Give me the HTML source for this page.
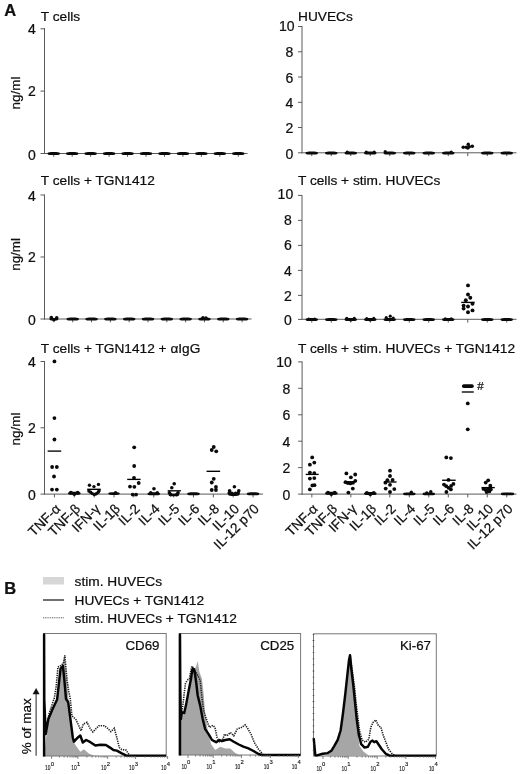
<!DOCTYPE html>
<html><head><meta charset="utf-8"><title>Figure</title>
<style>html,body{margin:0;padding:0;background:#fff}svg{display:block}text{stroke:#000;stroke-width:.22px}</style>
</head><body>
<svg width="520" height="774" viewBox="0 0 520 774">
<g font-family="Liberation Sans, Arial, sans-serif" font-size="13.7" fill="#111">
<text x="4.2" y="15.8" font-weight="bold" font-size="16.5">A</text>
<text x="4.2" y="594" font-weight="bold" font-size="16.5">B</text>
<g stroke="#5a5a5a" stroke-width="1" fill="none">
<line x1="44.5" y1="28.0" x2="44.5" y2="154.0"/>
<line x1="44.0" y1="153.5" x2="247.5" y2="153.5"/>
<line x1="40.5" y1="28.8" x2="44.5" y2="28.8"/>
<line x1="40.5" y1="91.1" x2="44.5" y2="91.1"/>
<line x1="40.5" y1="153.5" x2="44.5" y2="153.5"/>
<line x1="53.73" y1="153.5" x2="53.73" y2="156.8"/>
<line x1="72.18" y1="153.5" x2="72.18" y2="156.8"/>
<line x1="90.64" y1="153.5" x2="90.64" y2="156.8"/>
<line x1="109.09" y1="153.5" x2="109.09" y2="156.8"/>
<line x1="127.55" y1="153.5" x2="127.55" y2="156.8"/>
<line x1="146.00" y1="153.5" x2="146.00" y2="156.8"/>
<line x1="164.45" y1="153.5" x2="164.45" y2="156.8"/>
<line x1="182.91" y1="153.5" x2="182.91" y2="156.8"/>
<line x1="201.36" y1="153.5" x2="201.36" y2="156.8"/>
<line x1="219.82" y1="153.5" x2="219.82" y2="156.8"/>
<line x1="238.27" y1="153.5" x2="238.27" y2="156.8"/>
</g>
<text x="35.8" y="34.4" text-anchor="end" font-size="14">4</text>
<text x="35.8" y="95.89999999999999" text-anchor="end" font-size="14">2</text>
<text x="35.8" y="159.9" text-anchor="end" font-size="14">0</text>
<text x="40.8" y="20.6">T cells</text>
<text transform="translate(20.2,93) rotate(-90)" text-anchor="middle" font-size="13.4">ng/ml</text>
<g stroke="#5a5a5a" stroke-width="1" fill="none">
<line x1="44.5" y1="194.5" x2="44.5" y2="319.5"/>
<line x1="44.0" y1="319" x2="251.5" y2="319"/>
<line x1="40.5" y1="195" x2="44.5" y2="195"/>
<line x1="40.5" y1="257" x2="44.5" y2="257"/>
<line x1="40.5" y1="319" x2="44.5" y2="319"/>
<line x1="53.91" y1="319" x2="53.91" y2="322.3"/>
<line x1="72.73" y1="319" x2="72.73" y2="322.3"/>
<line x1="91.55" y1="319" x2="91.55" y2="322.3"/>
<line x1="110.36" y1="319" x2="110.36" y2="322.3"/>
<line x1="129.18" y1="319" x2="129.18" y2="322.3"/>
<line x1="148.00" y1="319" x2="148.00" y2="322.3"/>
<line x1="166.82" y1="319" x2="166.82" y2="322.3"/>
<line x1="185.64" y1="319" x2="185.64" y2="322.3"/>
<line x1="204.45" y1="319" x2="204.45" y2="322.3"/>
<line x1="223.27" y1="319" x2="223.27" y2="322.3"/>
<line x1="242.09" y1="319" x2="242.09" y2="322.3"/>
</g>
<text x="35.8" y="200.6" text-anchor="end" font-size="14">4</text>
<text x="35.8" y="261.8" text-anchor="end" font-size="14">2</text>
<text x="35.8" y="325.40000000000003" text-anchor="end" font-size="14">0</text>
<text x="40.8" y="185">T cells + TGN1412</text>
<text transform="translate(20.2,254.4) rotate(-90)" text-anchor="middle" font-size="13.4">ng/ml</text>
<g stroke="#5a5a5a" stroke-width="1" fill="none">
<line x1="44.5" y1="361.0" x2="44.5" y2="494.6"/>
<line x1="44.0" y1="494.1" x2="263" y2="494.1"/>
<line x1="40.5" y1="361.5" x2="44.5" y2="361.5"/>
<line x1="40.5" y1="427.8" x2="44.5" y2="427.8"/>
<line x1="40.5" y1="494.1" x2="44.5" y2="494.1"/>
<line x1="54.43" y1="494.1" x2="54.43" y2="497.40000000000003"/>
<line x1="74.30" y1="494.1" x2="74.30" y2="497.40000000000003"/>
<line x1="94.16" y1="494.1" x2="94.16" y2="497.40000000000003"/>
<line x1="114.02" y1="494.1" x2="114.02" y2="497.40000000000003"/>
<line x1="133.89" y1="494.1" x2="133.89" y2="497.40000000000003"/>
<line x1="153.75" y1="494.1" x2="153.75" y2="497.40000000000003"/>
<line x1="173.61" y1="494.1" x2="173.61" y2="497.40000000000003"/>
<line x1="193.48" y1="494.1" x2="193.48" y2="497.40000000000003"/>
<line x1="213.34" y1="494.1" x2="213.34" y2="497.40000000000003"/>
<line x1="233.20" y1="494.1" x2="233.20" y2="497.40000000000003"/>
<line x1="253.07" y1="494.1" x2="253.07" y2="497.40000000000003"/>
</g>
<text x="35.8" y="367.1" text-anchor="end" font-size="14">4</text>
<text x="35.8" y="432.6" text-anchor="end" font-size="14">2</text>
<text x="35.8" y="499.70000000000005" text-anchor="end" font-size="14">0</text>
<text x="40.8" y="353">T cells + TGN1412 + αIgG</text>
<text transform="translate(20.2,429) rotate(-90)" text-anchor="middle" font-size="13.4">ng/ml</text>
<text transform="translate(61.23,509.60) rotate(-45)" text-anchor="end" font-size="13.6">TNF-α</text>
<text transform="translate(81.10,509.60) rotate(-45)" text-anchor="end" font-size="13.6">TNF-β</text>
<text transform="translate(100.96,509.60) rotate(-45)" text-anchor="end" font-size="13.6">IFN-γ</text>
<text transform="translate(120.82,509.60) rotate(-45)" text-anchor="end" font-size="13.6">IL-1β</text>
<text transform="translate(140.69,509.60) rotate(-45)" text-anchor="end" font-size="13.6">IL-2</text>
<text transform="translate(160.55,509.60) rotate(-45)" text-anchor="end" font-size="13.6">IL-4</text>
<text transform="translate(180.41,509.60) rotate(-45)" text-anchor="end" font-size="13.6">IL-5</text>
<text transform="translate(200.28,509.60) rotate(-45)" text-anchor="end" font-size="13.6">IL-6</text>
<text transform="translate(220.14,509.60) rotate(-45)" text-anchor="end" font-size="13.6">IL-8</text>
<text transform="translate(240.00,509.60) rotate(-45)" text-anchor="end" font-size="13.6">IL-10</text>
<text transform="translate(259.87,509.60) rotate(-45)" text-anchor="end" font-size="13.6">IL-12 p70</text>
<g stroke="#5a5a5a" stroke-width="1" fill="none">
<line x1="302" y1="26.0" x2="302" y2="153.3"/>
<line x1="301.5" y1="152.8" x2="516.5" y2="152.8"/>
<line x1="298" y1="26.5" x2="302" y2="26.5"/>
<line x1="298" y1="51.8" x2="302" y2="51.8"/>
<line x1="298" y1="77" x2="302" y2="77"/>
<line x1="298" y1="102.3" x2="302" y2="102.3"/>
<line x1="298" y1="127.5" x2="302" y2="127.5"/>
<line x1="298" y1="152.8" x2="302" y2="152.8"/>
<line x1="311.75" y1="152.8" x2="311.75" y2="156.10000000000002"/>
<line x1="331.25" y1="152.8" x2="331.25" y2="156.10000000000002"/>
<line x1="350.75" y1="152.8" x2="350.75" y2="156.10000000000002"/>
<line x1="370.25" y1="152.8" x2="370.25" y2="156.10000000000002"/>
<line x1="389.75" y1="152.8" x2="389.75" y2="156.10000000000002"/>
<line x1="409.25" y1="152.8" x2="409.25" y2="156.10000000000002"/>
<line x1="428.75" y1="152.8" x2="428.75" y2="156.10000000000002"/>
<line x1="448.25" y1="152.8" x2="448.25" y2="156.10000000000002"/>
<line x1="467.75" y1="152.8" x2="467.75" y2="156.10000000000002"/>
<line x1="487.25" y1="152.8" x2="487.25" y2="156.10000000000002"/>
<line x1="506.75" y1="152.8" x2="506.75" y2="156.10000000000002"/>
</g>
<text x="294.6" y="31.1" text-anchor="end" font-size="14">10</text>
<text x="293.2" y="57.4" text-anchor="end" font-size="14">8</text>
<text x="293.2" y="82.6" text-anchor="end" font-size="14">6</text>
<text x="293.2" y="107.89999999999999" text-anchor="end" font-size="14">4</text>
<text x="293.2" y="133.1" text-anchor="end" font-size="14">2</text>
<text x="293.2" y="158.70000000000002" text-anchor="end" font-size="14">0</text>
<text x="298" y="20.6">HUVECs</text>
<g stroke="#5a5a5a" stroke-width="1" fill="none">
<line x1="302" y1="195.0" x2="302" y2="319.8"/>
<line x1="301.5" y1="319.3" x2="516.5" y2="319.3"/>
<line x1="298" y1="195.4" x2="302" y2="195.4"/>
<line x1="298" y1="220.4" x2="302" y2="220.4"/>
<line x1="298" y1="245.4" x2="302" y2="245.4"/>
<line x1="298" y1="270.4" x2="302" y2="270.4"/>
<line x1="298" y1="295.4" x2="302" y2="295.4"/>
<line x1="298" y1="319.4" x2="302" y2="319.4"/>
<line x1="311.75" y1="319.3" x2="311.75" y2="322.6"/>
<line x1="331.25" y1="319.3" x2="331.25" y2="322.6"/>
<line x1="350.75" y1="319.3" x2="350.75" y2="322.6"/>
<line x1="370.25" y1="319.3" x2="370.25" y2="322.6"/>
<line x1="389.75" y1="319.3" x2="389.75" y2="322.6"/>
<line x1="409.25" y1="319.3" x2="409.25" y2="322.6"/>
<line x1="428.75" y1="319.3" x2="428.75" y2="322.6"/>
<line x1="448.25" y1="319.3" x2="448.25" y2="322.6"/>
<line x1="467.75" y1="319.3" x2="467.75" y2="322.6"/>
<line x1="487.25" y1="319.3" x2="487.25" y2="322.6"/>
<line x1="506.75" y1="319.3" x2="506.75" y2="322.6"/>
</g>
<text x="293.2" y="199.0" text-anchor="end" font-size="14">10</text>
<text x="291.8" y="224.5" text-anchor="end" font-size="14">8</text>
<text x="291.8" y="250.0" text-anchor="end" font-size="14">6</text>
<text x="291.8" y="275.5" text-anchor="end" font-size="14">4</text>
<text x="291.8" y="301.0" text-anchor="end" font-size="14">2</text>
<text x="291.8" y="325.0" text-anchor="end" font-size="14">0</text>
<text x="298" y="185">T cells + stim. HUVECs</text>
<g stroke="#5a5a5a" stroke-width="1" fill="none">
<line x1="302.1" y1="361.4" x2="302.1" y2="494.6"/>
<line x1="301.6" y1="494.1" x2="516.5" y2="494.1"/>
<line x1="298.1" y1="361.9" x2="302.1" y2="361.9"/>
<line x1="298.1" y1="388.3" x2="302.1" y2="388.3"/>
<line x1="298.1" y1="414.8" x2="302.1" y2="414.8"/>
<line x1="298.1" y1="441.2" x2="302.1" y2="441.2"/>
<line x1="298.1" y1="467.6" x2="302.1" y2="467.6"/>
<line x1="298.1" y1="494.1" x2="302.1" y2="494.1"/>
<line x1="311.85" y1="494.1" x2="311.85" y2="497.40000000000003"/>
<line x1="331.34" y1="494.1" x2="331.34" y2="497.40000000000003"/>
<line x1="350.83" y1="494.1" x2="350.83" y2="497.40000000000003"/>
<line x1="370.32" y1="494.1" x2="370.32" y2="497.40000000000003"/>
<line x1="389.81" y1="494.1" x2="389.81" y2="497.40000000000003"/>
<line x1="409.30" y1="494.1" x2="409.30" y2="497.40000000000003"/>
<line x1="428.79" y1="494.1" x2="428.79" y2="497.40000000000003"/>
<line x1="448.28" y1="494.1" x2="448.28" y2="497.40000000000003"/>
<line x1="467.77" y1="494.1" x2="467.77" y2="497.40000000000003"/>
<line x1="487.26" y1="494.1" x2="487.26" y2="497.40000000000003"/>
<line x1="506.75" y1="494.1" x2="506.75" y2="497.40000000000003"/>
</g>
<text x="291.8" y="366.5" text-anchor="end" font-size="14">10</text>
<text x="290.40000000000003" y="393.90000000000003" text-anchor="end" font-size="14">8</text>
<text x="290.40000000000003" y="420.40000000000003" text-anchor="end" font-size="14">6</text>
<text x="290.40000000000003" y="446.8" text-anchor="end" font-size="14">4</text>
<text x="290.40000000000003" y="473.20000000000005" text-anchor="end" font-size="14">2</text>
<text x="290.40000000000003" y="499.70000000000005" text-anchor="end" font-size="14">0</text>
<text x="298" y="353.3">T cells + stim. HUVECs + TGN1412</text>
<text transform="translate(318.65,509.60) rotate(-45)" text-anchor="end" font-size="13.6">TNF-α</text>
<text transform="translate(338.14,509.60) rotate(-45)" text-anchor="end" font-size="13.6">TNF-β</text>
<text transform="translate(357.63,509.60) rotate(-45)" text-anchor="end" font-size="13.6">IFN-γ</text>
<text transform="translate(377.12,509.60) rotate(-45)" text-anchor="end" font-size="13.6">IL-1β</text>
<text transform="translate(396.61,509.60) rotate(-45)" text-anchor="end" font-size="13.6">IL-2</text>
<text transform="translate(416.10,509.60) rotate(-45)" text-anchor="end" font-size="13.6">IL-4</text>
<text transform="translate(435.59,509.60) rotate(-45)" text-anchor="end" font-size="13.6">IL-5</text>
<text transform="translate(455.08,509.60) rotate(-45)" text-anchor="end" font-size="13.6">IL-6</text>
<text transform="translate(474.57,509.60) rotate(-45)" text-anchor="end" font-size="13.6">IL-8</text>
<text transform="translate(494.06,509.60) rotate(-45)" text-anchor="end" font-size="13.6">IL-10</text>
<text transform="translate(513.55,509.60) rotate(-45)" text-anchor="end" font-size="13.6">IL-12 p70</text>
<g fill="#0a0a0a">
<rect x="47.53" y="152.10" width="12.4" height="3.0" rx="3.5" ry="1.5"/>
<rect x="65.98" y="152.10" width="12.4" height="3.0" rx="3.5" ry="1.5"/>
<rect x="84.44" y="152.10" width="12.4" height="3.0" rx="3.5" ry="1.5"/>
<rect x="102.89" y="152.10" width="12.4" height="3.0" rx="3.5" ry="1.5"/>
<rect x="121.35" y="152.10" width="12.4" height="3.0" rx="3.5" ry="1.5"/>
<rect x="139.80" y="152.10" width="12.4" height="3.0" rx="3.5" ry="1.5"/>
<rect x="158.25" y="152.10" width="12.4" height="3.0" rx="3.5" ry="1.5"/>
<rect x="176.71" y="152.10" width="12.4" height="3.0" rx="3.5" ry="1.5"/>
<rect x="195.16" y="152.10" width="12.4" height="3.0" rx="3.5" ry="1.5"/>
<rect x="213.62" y="152.10" width="12.4" height="3.0" rx="3.5" ry="1.5"/>
<rect x="232.07" y="152.10" width="12.4" height="3.0" rx="3.5" ry="1.5"/>
<circle cx="51.31" cy="317.60" r="1.8"/>
<circle cx="56.71" cy="317.80" r="1.8"/>
<circle cx="53.91" cy="319.80" r="1.8"/>
<rect x="49.41" y="318.10" width="9" height="2.4" rx="3.5" ry="1.2"/>
<rect x="66.53" y="317.60" width="12.4" height="3.0" rx="3.5" ry="1.5"/>
<rect x="85.35" y="317.60" width="12.4" height="3.0" rx="3.5" ry="1.5"/>
<rect x="104.16" y="317.60" width="12.4" height="3.0" rx="3.5" ry="1.5"/>
<rect x="122.98" y="317.60" width="12.4" height="3.0" rx="3.5" ry="1.5"/>
<rect x="141.80" y="317.60" width="12.4" height="3.0" rx="3.5" ry="1.5"/>
<rect x="160.62" y="317.60" width="12.4" height="3.0" rx="3.5" ry="1.5"/>
<rect x="179.44" y="317.60" width="12.4" height="3.0" rx="3.5" ry="1.5"/>
<rect x="198.25" y="317.60" width="12.4" height="3.0" rx="3.5" ry="1.5"/>
<circle cx="202.95" cy="317.80" r="1.7"/>
<circle cx="205.95" cy="318.00" r="1.7"/>
<rect x="217.07" y="317.60" width="12.4" height="3.0" rx="3.5" ry="1.5"/>
<rect x="235.89" y="317.60" width="12.4" height="3.0" rx="3.5" ry="1.5"/>
<rect x="305.55" y="151.50" width="12.4" height="3.0" rx="3.5" ry="1.5"/>
<rect x="325.05" y="151.50" width="12.4" height="3.0" rx="3.5" ry="1.5"/>
<rect x="344.55" y="151.50" width="12.4" height="3.0" rx="3.5" ry="1.5"/>
<circle cx="347.25" cy="152.00" r="1.5999999999999999"/>
<rect x="364.05" y="151.50" width="12.4" height="3.0" rx="3.5" ry="1.5"/>
<circle cx="366.25" cy="152.00" r="1.5999999999999999"/>
<circle cx="374.25" cy="152.20" r="1.5999999999999999"/>
<rect x="383.55" y="151.50" width="12.4" height="3.0" rx="3.5" ry="1.5"/>
<circle cx="385.25" cy="151.60" r="1.5999999999999999"/>
<rect x="403.05" y="151.50" width="12.4" height="3.0" rx="3.5" ry="1.5"/>
<rect x="422.55" y="151.50" width="12.4" height="3.0" rx="3.5" ry="1.5"/>
<rect x="442.05" y="151.50" width="12.4" height="3.0" rx="3.5" ry="1.5"/>
<circle cx="451.25" cy="152.20" r="1.5999999999999999"/>
<circle cx="468.25" cy="144.20" r="1.7"/>
<circle cx="463.25" cy="147.20" r="1.8"/>
<circle cx="466.25" cy="147.30" r="1.8"/>
<circle cx="469.25" cy="146.80" r="1.8"/>
<circle cx="472.25" cy="146.20" r="1.8"/>
<circle cx="467.75" cy="148.00" r="1.8"/>
<rect x="481.05" y="151.50" width="12.4" height="3.0" rx="3.5" ry="1.5"/>
<rect x="500.55" y="151.50" width="12.4" height="3.0" rx="3.5" ry="1.5"/>
<rect x="305.55" y="317.90" width="12.4" height="3.0" rx="3.5" ry="1.5"/>
<circle cx="308.75" cy="318.90" r="1.5"/>
<circle cx="314.75" cy="318.90" r="1.5"/>
<rect x="325.05" y="317.90" width="12.4" height="3.0" rx="3.5" ry="1.5"/>
<rect x="344.55" y="317.90" width="12.4" height="3.0" rx="3.5" ry="1.5"/>
<circle cx="346.75" cy="318.20" r="1.55"/>
<circle cx="354.25" cy="318.20" r="1.55"/>
<circle cx="350.75" cy="320.00" r="1.5999999999999999"/>
<rect x="364.05" y="317.90" width="12.4" height="3.0" rx="3.5" ry="1.5"/>
<circle cx="366.75" cy="318.50" r="1.5"/>
<circle cx="373.75" cy="318.20" r="1.5"/>
<circle cx="370.25" cy="320.00" r="1.5"/>
<rect x="383.55" y="317.90" width="12.4" height="3.0" rx="3.5" ry="1.5"/>
<circle cx="386.25" cy="317.60" r="1.55"/>
<circle cx="390.25" cy="316.20" r="1.5999999999999999"/>
<circle cx="393.25" cy="318.00" r="1.5"/>
<rect x="403.05" y="317.90" width="12.4" height="3.0" rx="3.5" ry="1.5"/>
<rect x="422.55" y="317.90" width="12.4" height="3.0" rx="3.5" ry="1.5"/>
<rect x="442.05" y="317.90" width="12.4" height="3.0" rx="3.5" ry="1.5"/>
<circle cx="445.25" cy="318.80" r="1.5"/>
<circle cx="451.25" cy="318.80" r="1.5"/>
<circle cx="468.00" cy="285.40" r="1.95"/>
<circle cx="468.00" cy="294.50" r="1.95"/>
<circle cx="470.30" cy="297.70" r="1.95"/>
<circle cx="465.80" cy="300.30" r="1.95"/>
<circle cx="472.50" cy="303.80" r="1.95"/>
<circle cx="463.60" cy="305.60" r="1.95"/>
<circle cx="468.00" cy="306.50" r="1.95"/>
<circle cx="463.60" cy="308.60" r="1.95"/>
<circle cx="472.50" cy="310.40" r="1.95"/>
<circle cx="468.00" cy="312.20" r="1.95"/>
<line x1="461.20" y1="302.40" x2="474.70" y2="302.40" stroke="#000" stroke-width="1.35"/>
<rect x="481.05" y="317.90" width="12.4" height="3.0" rx="3.5" ry="1.5"/>
<rect x="500.55" y="317.90" width="12.4" height="3.0" rx="3.5" ry="1.5"/>
<circle cx="54.43" cy="361.40" r="1.9000000000000001"/>
<circle cx="54.43" cy="418.10" r="1.9000000000000001"/>
<circle cx="54.43" cy="439.50" r="1.9000000000000001"/>
<circle cx="52.13" cy="467.00" r="1.9000000000000001"/>
<circle cx="56.83" cy="467.00" r="1.9000000000000001"/>
<circle cx="54.03" cy="476.50" r="1.9000000000000001"/>
<circle cx="52.03" cy="489.60" r="1.9000000000000001"/>
<circle cx="56.83" cy="489.60" r="1.9000000000000001"/>
<line x1="47.63" y1="451.10" x2="61.23" y2="451.10" stroke="#000" stroke-width="1.35"/>
<rect x="68.00" y="491.70" width="12.6" height="3.0" rx="3.5" ry="1.5"/>
<circle cx="70.90" cy="492.60" r="1.9000000000000001"/>
<circle cx="74.30" cy="494.00" r="1.9000000000000001"/>
<circle cx="77.70" cy="492.60" r="1.9000000000000001"/>
<circle cx="89.46" cy="485.30" r="1.7"/>
<circle cx="98.46" cy="484.40" r="1.7"/>
<circle cx="93.96" cy="486.60" r="1.7"/>
<circle cx="88.86" cy="491.00" r="1.7"/>
<circle cx="90.66" cy="492.20" r="1.7"/>
<circle cx="92.36" cy="493.60" r="1.7"/>
<circle cx="94.36" cy="494.50" r="1.7"/>
<circle cx="96.36" cy="493.80" r="1.7"/>
<circle cx="98.16" cy="492.20" r="1.7"/>
<circle cx="99.06" cy="490.80" r="1.7"/>
<line x1="87.16" y1="489.30" x2="100.76" y2="489.30" stroke="#000" stroke-width="1.35"/>
<rect x="108.27" y="492.20" width="11.5" height="2.8" rx="3.5" ry="1.4"/>
<circle cx="115.52" cy="492.80" r="1.7"/>
<circle cx="134.19" cy="447.30" r="1.9000000000000001"/>
<circle cx="134.19" cy="466.00" r="1.9000000000000001"/>
<circle cx="133.99" cy="477.80" r="1.9000000000000001"/>
<circle cx="138.69" cy="483.00" r="1.9000000000000001"/>
<circle cx="129.99" cy="486.60" r="1.9000000000000001"/>
<circle cx="134.39" cy="486.80" r="1.9000000000000001"/>
<circle cx="132.69" cy="494.60" r="1.9000000000000001"/>
<circle cx="136.09" cy="494.60" r="1.9000000000000001"/>
<line x1="127.19" y1="479.40" x2="140.59" y2="479.40" stroke="#000" stroke-width="1.35"/>
<rect x="147.50" y="492.30" width="12.5" height="3" rx="3.5" ry="1.5"/>
<circle cx="153.95" cy="488.80" r="1.8"/>
<circle cx="150.75" cy="492.60" r="1.7"/>
<circle cx="157.25" cy="492.60" r="1.7"/>
<circle cx="174.21" cy="483.80" r="1.8"/>
<circle cx="171.81" cy="487.80" r="1.8"/>
<circle cx="169.41" cy="492.80" r="1.8"/>
<circle cx="178.01" cy="492.80" r="1.8"/>
<circle cx="170.61" cy="494.60" r="1.8"/>
<circle cx="176.81" cy="494.60" r="1.8"/>
<rect x="168.56" y="493.70" width="10.5" height="2.6" rx="3.5" ry="1.3"/>
<line x1="167.66" y1="490.80" x2="180.96" y2="490.80" stroke="#000" stroke-width="1.35"/>
<rect x="187.23" y="492.30" width="12.5" height="3" rx="3.5" ry="1.5"/>
<circle cx="213.74" cy="447.00" r="1.9000000000000001"/>
<circle cx="211.74" cy="450.00" r="1.9000000000000001"/>
<circle cx="216.24" cy="451.30" r="1.9000000000000001"/>
<circle cx="213.74" cy="478.80" r="1.9000000000000001"/>
<circle cx="211.74" cy="482.50" r="1.9000000000000001"/>
<circle cx="215.94" cy="487.00" r="1.9000000000000001"/>
<circle cx="211.74" cy="490.00" r="1.9000000000000001"/>
<circle cx="215.94" cy="490.00" r="1.9000000000000001"/>
<line x1="206.54" y1="471.30" x2="220.14" y2="471.30" stroke="#000" stroke-width="1.35"/>
<circle cx="234.40" cy="486.80" r="1.8"/>
<circle cx="229.60" cy="490.80" r="1.8"/>
<circle cx="238.80" cy="490.80" r="1.8"/>
<circle cx="229.20" cy="493.00" r="1.8"/>
<circle cx="238.20" cy="493.00" r="1.8"/>
<circle cx="231.70" cy="493.40" r="1.8"/>
<circle cx="235.70" cy="493.40" r="1.8"/>
<rect x="228.05" y="492.50" width="11.5" height="3.4" rx="3.5" ry="1.7"/>
<rect x="246.82" y="492.30" width="12.5" height="3" rx="3.5" ry="1.5"/>
<circle cx="312.20" cy="457.40" r="1.92"/>
<circle cx="314.30" cy="462.60" r="1.92"/>
<circle cx="309.90" cy="464.70" r="1.92"/>
<circle cx="309.90" cy="472.60" r="1.92"/>
<circle cx="314.30" cy="473.10" r="1.92"/>
<circle cx="309.90" cy="478.60" r="1.92"/>
<circle cx="314.30" cy="478.10" r="1.92"/>
<circle cx="312.40" cy="485.40" r="1.92"/>
<circle cx="314.50" cy="485.20" r="1.92"/>
<circle cx="309.90" cy="489.40" r="1.92"/>
<line x1="305.70" y1="474.40" x2="318.70" y2="474.40" stroke="#000" stroke-width="1.35"/>
<rect x="325.04" y="491.80" width="12.6" height="3.0" rx="3.5" ry="1.5"/>
<circle cx="327.94" cy="492.70" r="1.9000000000000001"/>
<circle cx="331.34" cy="494.10" r="1.9000000000000001"/>
<circle cx="334.74" cy="492.70" r="1.9000000000000001"/>
<circle cx="346.40" cy="473.40" r="1.92"/>
<circle cx="355.20" cy="474.50" r="1.92"/>
<circle cx="350.90" cy="477.30" r="1.92"/>
<circle cx="345.50" cy="482.20" r="1.92"/>
<circle cx="347.80" cy="483.10" r="1.92"/>
<circle cx="350.40" cy="483.40" r="1.92"/>
<circle cx="353.00" cy="482.80" r="1.92"/>
<circle cx="355.30" cy="480.80" r="1.92"/>
<circle cx="352.80" cy="488.60" r="1.92"/>
<circle cx="348.40" cy="492.60" r="1.92"/>
<line x1="344.40" y1="481.80" x2="355.60" y2="481.80" stroke="#000" stroke-width="1.35"/>
<rect x="364.02" y="491.90" width="12.6" height="3.0" rx="3.5" ry="1.5"/>
<circle cx="366.92" cy="492.80" r="1.9000000000000001"/>
<circle cx="370.32" cy="494.20" r="1.9000000000000001"/>
<circle cx="373.72" cy="492.80" r="1.9000000000000001"/>
<circle cx="390.00" cy="470.70" r="1.92"/>
<circle cx="390.00" cy="476.00" r="1.92"/>
<circle cx="387.40" cy="480.20" r="1.92"/>
<circle cx="392.60" cy="479.90" r="1.92"/>
<circle cx="385.40" cy="482.70" r="1.92"/>
<circle cx="390.00" cy="484.80" r="1.92"/>
<circle cx="385.70" cy="488.60" r="1.92"/>
<circle cx="394.30" cy="489.10" r="1.92"/>
<circle cx="390.00" cy="492.00" r="1.92"/>
<line x1="384.00" y1="482.00" x2="396.60" y2="482.00" stroke="#000" stroke-width="1.35"/>
<rect x="403.05" y="492.50" width="12.5" height="2.8" rx="3.5" ry="1.4"/>
<circle cx="411.30" cy="492.20" r="1.7"/>
<rect x="422.54" y="492.50" width="12.5" height="2.8" rx="3.5" ry="1.4"/>
<circle cx="430.79" cy="491.80" r="1.7"/>
<circle cx="426.79" cy="493.00" r="1.7"/>
<circle cx="446.30" cy="457.40" r="1.92"/>
<circle cx="450.90" cy="458.10" r="1.92"/>
<circle cx="448.50" cy="479.90" r="1.92"/>
<circle cx="444.00" cy="484.60" r="1.92"/>
<circle cx="446.30" cy="486.20" r="1.92"/>
<circle cx="448.50" cy="487.80" r="1.92"/>
<circle cx="450.90" cy="489.40" r="1.92"/>
<circle cx="451.10" cy="485.90" r="1.92"/>
<circle cx="453.40" cy="483.90" r="1.92"/>
<circle cx="446.40" cy="492.00" r="1.92"/>
<line x1="442.10" y1="480.25" x2="455.70" y2="480.25" stroke="#000" stroke-width="1.35"/>
<rect x="461.97" y="384.2" width="11.8" height="3.8" rx="1.8"/>
<line x1="461.77" y1="392.00" x2="473.77" y2="392.00" stroke="#000" stroke-width="1.35"/>
<circle cx="467.77" cy="403.40" r="1.92"/>
<circle cx="467.77" cy="429.30" r="1.92"/>
<circle cx="488.20" cy="480.30" r="1.92"/>
<circle cx="485.70" cy="482.60" r="1.92"/>
<circle cx="490.30" cy="485.70" r="1.92"/>
<circle cx="483.50" cy="488.90" r="1.92"/>
<circle cx="485.80" cy="490.00" r="1.92"/>
<circle cx="488.20" cy="489.10" r="1.92"/>
<circle cx="490.80" cy="489.40" r="1.92"/>
<circle cx="486.70" cy="492.00" r="1.92"/>
<circle cx="489.30" cy="491.40" r="1.92"/>
<line x1="481.50" y1="487.60" x2="494.80" y2="487.60" stroke="#000" stroke-width="1.35"/>
<rect x="500.80" y="492.50" width="13.5" height="2.8" rx="3.5" ry="1.4"/>
</g>
<text x="477.3" y="390.3" font-size="11.5">#</text>
<rect x="43" y="577" width="21" height="7.5" fill="#d6d6d6"/>
<line x1="43" y1="600" x2="64" y2="600" stroke="#222" stroke-width="1.3"/>
<line x1="43" y1="617.8" x2="64" y2="617.8" stroke="#555" stroke-width="1" stroke-dasharray="1 0.8"/>
<text x="74.6" y="586.3">stim. HUVECs</text>
<text x="74.6" y="604.5">HUVECs + TGN1412</text>
<text x="74.6" y="622.6">stim. HUVECs + TGN1412</text>
<text transform="translate(30.8,726.3) rotate(-90)" text-anchor="middle" font-size="13.4">% of max</text>
<line x1="36.1" y1="755.8" x2="36.1" y2="693" stroke="#222" stroke-width="1"/>
<path d="M36.1 688 L39.6 694.2 L32.6 694.2 Z" fill="#111"/>
<polygon points="44.2,756.0 45.9,739.0 48.4,722.0 52.6,710.0 56.8,700.0 59.3,682.0 61.0,670.0 63.5,660.0 64.7,656.5 66.3,673.0 68.6,700.5 71.0,724.0 72.8,740.9 76.1,745.9 80.3,751.8 84.0,749.2 88.7,753.4 93.7,755.6 100.0,756.0" fill="#a6a6a6"/>
<rect x="43.5" y="633.5" width="122.69999999999999" height="122.5" fill="none" stroke="#777" stroke-width="1"/>
<polyline points="45.9,730.0 49.0,714.0 52.6,703.0 54.4,697.7 56.2,686.2 57.3,674.6 57.9,667.0 61.6,665.3 63.6,662.5 64.8,655.4 66.0,668.8 67.1,680.4 68.8,691.9 70.2,698.0 71.9,715.7 76.1,719.9 81.1,730.8 83.3,724.0 87.0,722.4 90.4,729.0 92.9,732.0 98.8,725.7 104.2,725.7 107.6,728.3 110.9,731.6 114.3,728.3 116.8,737.5 119.3,747.6 121.8,749.6 126.0,750.1 129.4,755.1" fill="none" stroke="#1e1e1e" stroke-width="1.6" stroke-dasharray="1.3 1.0"/>
<polyline points="44.1,756.5 44.1,634.5 44.3,700.0 45.7,734.0 48.4,719.0 52.6,709.0 57.1,699.5 59.5,678.0 60.6,668.5 61.6,667.5 62.9,666.0 64.4,680.4 66.0,698.9 68.2,702.2 70.2,717.3 72.8,737.5 73.9,741.7 77.0,738.3 80.3,735.5 82.8,742.5 86.2,740.0 90.4,742.2 95.4,745.5 100.5,744.7 105.9,745.0 110.0,747.6 113.4,750.0 116.8,750.6 121.8,753.4 126.0,755.4 166.0,755.6" fill="none" stroke="#050505" stroke-width="2.45" stroke-linejoin="round"/>
<text x="125.5" y="649.8" font-size="13.3">CD69</text>
<g stroke="#666" stroke-width="0.8">
<line x1="51.6" y1="756" x2="51.6" y2="759"/>
<line x1="59.5" y1="756" x2="59.5" y2="757.6"/>
<line x1="64.1" y1="756" x2="64.1" y2="757.6"/>
<line x1="67.4" y1="756" x2="67.4" y2="757.6"/>
<line x1="70.0" y1="756" x2="70.0" y2="757.6"/>
<line x1="72.1" y1="756" x2="72.1" y2="757.6"/>
<line x1="73.8" y1="756" x2="73.8" y2="757.6"/>
<line x1="75.4" y1="756" x2="75.4" y2="757.6"/>
<line x1="76.7" y1="756" x2="76.7" y2="757.6"/>
<line x1="77.9" y1="756" x2="77.9" y2="759"/>
<line x1="86.9" y1="756" x2="86.9" y2="757.6"/>
<line x1="92.1" y1="756" x2="92.1" y2="757.6"/>
<line x1="95.8" y1="756" x2="95.8" y2="757.6"/>
<line x1="98.7" y1="756" x2="98.7" y2="757.6"/>
<line x1="101.1" y1="756" x2="101.1" y2="757.6"/>
<line x1="103.1" y1="756" x2="103.1" y2="757.6"/>
<line x1="104.8" y1="756" x2="104.8" y2="757.6"/>
<line x1="106.3" y1="756" x2="106.3" y2="757.6"/>
<line x1="107.7" y1="756" x2="107.7" y2="759"/>
<line x1="116.1" y1="756" x2="116.1" y2="757.6"/>
<line x1="121.0" y1="756" x2="121.0" y2="757.6"/>
<line x1="124.5" y1="756" x2="124.5" y2="757.6"/>
<line x1="127.2" y1="756" x2="127.2" y2="757.6"/>
<line x1="129.4" y1="756" x2="129.4" y2="757.6"/>
<line x1="131.3" y1="756" x2="131.3" y2="757.6"/>
<line x1="132.9" y1="756" x2="132.9" y2="757.6"/>
<line x1="134.3" y1="756" x2="134.3" y2="757.6"/>
<line x1="135.6" y1="756" x2="135.6" y2="759"/>
<line x1="145.2" y1="756" x2="145.2" y2="757.6"/>
<line x1="150.9" y1="756" x2="150.9" y2="757.6"/>
<line x1="154.9" y1="756" x2="154.9" y2="757.6"/>
<line x1="158.0" y1="756" x2="158.0" y2="757.6"/>
<line x1="160.5" y1="756" x2="160.5" y2="757.6"/>
<line x1="162.6" y1="756" x2="162.6" y2="757.6"/>
<line x1="164.5" y1="756" x2="164.5" y2="757.6"/>
<line x1="166.1" y1="756" x2="166.1" y2="757.6"/>
<line x1="167.6" y1="756" x2="167.6" y2="759"/>
</g>
<text x="45.0" y="770.2" font-size="7.4" textLength="5.4" lengthAdjust="spacingAndGlyphs" fill="#111" style="stroke-width:.12px">10</text>
<text x="50.7" y="765.6" font-size="6.2" textLength="3.3" lengthAdjust="spacingAndGlyphs" fill="#111" style="stroke-width:.12px">0</text>
<text x="71.3" y="770.2" font-size="7.4" textLength="5.4" lengthAdjust="spacingAndGlyphs" fill="#111" style="stroke-width:.12px">10</text>
<text x="77.0" y="765.6" font-size="6.2" textLength="3.3" lengthAdjust="spacingAndGlyphs" fill="#111" style="stroke-width:.12px">1</text>
<text x="101.1" y="770.2" font-size="7.4" textLength="5.4" lengthAdjust="spacingAndGlyphs" fill="#111" style="stroke-width:.12px">10</text>
<text x="106.8" y="765.6" font-size="6.2" textLength="3.3" lengthAdjust="spacingAndGlyphs" fill="#111" style="stroke-width:.12px">2</text>
<text x="129.0" y="770.2" font-size="7.4" textLength="5.4" lengthAdjust="spacingAndGlyphs" fill="#111" style="stroke-width:.12px">10</text>
<text x="134.7" y="765.6" font-size="6.2" textLength="3.3" lengthAdjust="spacingAndGlyphs" fill="#111" style="stroke-width:.12px">3</text>
<text x="161.0" y="770.2" font-size="7.4" textLength="5.4" lengthAdjust="spacingAndGlyphs" fill="#111" style="stroke-width:.12px">10</text>
<text x="166.7" y="765.6" font-size="6.2" textLength="3.3" lengthAdjust="spacingAndGlyphs" fill="#111" style="stroke-width:.12px">4</text>
<polygon points="180.0,755.0 180.9,720.7 185.1,710.6 190.1,685.4 193.5,670.3 196.0,667.0 197.7,661.0 199.4,672.0 201.9,678.7 203.6,693.8 205.2,714.0 207.8,730.8 211.1,744.2 215.3,750.1 220.3,746.7 225.4,748.4 230.4,748.4 234.6,752.6 238.8,755.1" fill="#a6a6a6"/>
<rect x="179.2" y="633.5" width="121.40000000000003" height="121.5" fill="none" stroke="#777" stroke-width="1"/>
<polyline points="181.7,714.0 183.4,700.5 185.4,683.7 187.1,680.4 189.3,678.7 191.8,666.1 194.3,669.5 197.7,675.3 200.2,680.4 201.9,697.2 203.6,710.6 206.9,720.7 209.4,727.4 212.8,725.4 215.0,727.4 217.0,737.5 219.5,741.7 222.9,739.2 224.5,734.1 227.0,735.8 230.4,732.5 233.8,735.8 237.1,729.1 241.5,727.4 245.1,724.9 247.6,728.3 251.0,734.1 254.3,742.5 258.5,749.2 262.7,754.0" fill="none" stroke="#1e1e1e" stroke-width="1.6" stroke-dasharray="1.3 1.0"/>
<polyline points="180.0,755.5 180.0,634.5 180.3,690.0 180.9,719.0 182.0,712.3 184.2,713.1 185.9,705.6 188.4,692.1 191.0,678.7 192.2,670.5 193.0,668.6 194.0,669.2 195.0,674.0 196.2,682.5 197.7,695.5 200.2,705.6 202.7,719.0 205.2,729.1 208.6,734.1 212.0,740.0 216.1,742.2 219.5,740.0 222.0,741.2 225.4,740.0 229.6,739.2 233.8,741.7 238.8,744.5 243.4,746.7 248.4,748.4 253.5,751.0 258.5,754.0 262.0,755.0 300.5,755.0" fill="none" stroke="#050505" stroke-width="2.45" stroke-linejoin="round"/>
<text x="260.2" y="649.8" font-size="13.3">CD25</text>
<g stroke="#666" stroke-width="0.8">
<line x1="188" y1="755" x2="188" y2="758"/>
<line x1="195.6" y1="755" x2="195.6" y2="756.6"/>
<line x1="200.0" y1="755" x2="200.0" y2="756.6"/>
<line x1="203.2" y1="755" x2="203.2" y2="756.6"/>
<line x1="205.6" y1="755" x2="205.6" y2="756.6"/>
<line x1="207.6" y1="755" x2="207.6" y2="756.6"/>
<line x1="209.3" y1="755" x2="209.3" y2="756.6"/>
<line x1="210.8" y1="755" x2="210.8" y2="756.6"/>
<line x1="212.0" y1="755" x2="212.0" y2="756.6"/>
<line x1="213.2" y1="755" x2="213.2" y2="758"/>
<line x1="221.7" y1="755" x2="221.7" y2="756.6"/>
<line x1="226.7" y1="755" x2="226.7" y2="756.6"/>
<line x1="230.2" y1="755" x2="230.2" y2="756.6"/>
<line x1="233.0" y1="755" x2="233.0" y2="756.6"/>
<line x1="235.2" y1="755" x2="235.2" y2="756.6"/>
<line x1="237.1" y1="755" x2="237.1" y2="756.6"/>
<line x1="238.8" y1="755" x2="238.8" y2="756.6"/>
<line x1="240.2" y1="755" x2="240.2" y2="756.6"/>
<line x1="241.5" y1="755" x2="241.5" y2="758"/>
<line x1="250.2" y1="755" x2="250.2" y2="756.6"/>
<line x1="255.3" y1="755" x2="255.3" y2="756.6"/>
<line x1="258.9" y1="755" x2="258.9" y2="756.6"/>
<line x1="261.7" y1="755" x2="261.7" y2="756.6"/>
<line x1="264.0" y1="755" x2="264.0" y2="756.6"/>
<line x1="265.9" y1="755" x2="265.9" y2="756.6"/>
<line x1="267.6" y1="755" x2="267.6" y2="756.6"/>
<line x1="269.1" y1="755" x2="269.1" y2="756.6"/>
<line x1="270.4" y1="755" x2="270.4" y2="758"/>
<line x1="278.8" y1="755" x2="278.8" y2="756.6"/>
<line x1="283.8" y1="755" x2="283.8" y2="756.6"/>
<line x1="287.3" y1="755" x2="287.3" y2="756.6"/>
<line x1="290.0" y1="755" x2="290.0" y2="756.6"/>
<line x1="292.2" y1="755" x2="292.2" y2="756.6"/>
<line x1="294.1" y1="755" x2="294.1" y2="756.6"/>
<line x1="295.7" y1="755" x2="295.7" y2="756.6"/>
<line x1="297.1" y1="755" x2="297.1" y2="756.6"/>
<line x1="298.4" y1="755" x2="298.4" y2="758"/>
</g>
<text x="181.4" y="768.9000000000001" font-size="7.4" textLength="5.4" lengthAdjust="spacingAndGlyphs" fill="#111" style="stroke-width:.12px">10</text>
<text x="187.1" y="764.3000000000001" font-size="6.2" textLength="3.3" lengthAdjust="spacingAndGlyphs" fill="#111" style="stroke-width:.12px">0</text>
<text x="206.6" y="768.9000000000001" font-size="7.4" textLength="5.4" lengthAdjust="spacingAndGlyphs" fill="#111" style="stroke-width:.12px">10</text>
<text x="212.3" y="764.3000000000001" font-size="6.2" textLength="3.3" lengthAdjust="spacingAndGlyphs" fill="#111" style="stroke-width:.12px">1</text>
<text x="234.9" y="768.9000000000001" font-size="7.4" textLength="5.4" lengthAdjust="spacingAndGlyphs" fill="#111" style="stroke-width:.12px">10</text>
<text x="240.6" y="764.3000000000001" font-size="6.2" textLength="3.3" lengthAdjust="spacingAndGlyphs" fill="#111" style="stroke-width:.12px">2</text>
<text x="263.8" y="768.9000000000001" font-size="7.4" textLength="5.4" lengthAdjust="spacingAndGlyphs" fill="#111" style="stroke-width:.12px">10</text>
<text x="269.5" y="764.3000000000001" font-size="6.2" textLength="3.3" lengthAdjust="spacingAndGlyphs" fill="#111" style="stroke-width:.12px">3</text>
<text x="291.8" y="768.9000000000001" font-size="7.4" textLength="5.4" lengthAdjust="spacingAndGlyphs" fill="#111" style="stroke-width:.12px">10</text>
<text x="297.5" y="764.3000000000001" font-size="6.2" textLength="3.3" lengthAdjust="spacingAndGlyphs" fill="#111" style="stroke-width:.12px">4</text>
<polygon points="326.8,755.5 333.5,747.6 338.6,737.5 341.9,720.7 345.3,694.0 347.3,676.0 349.0,661.0 350.0,655.2 352.0,672.0 354.5,697.2 356.2,717.3 357.9,734.1 359.5,745.9 363.7,751.8 368.8,755.5" fill="#a6a6a6"/>
<rect x="313.5" y="633.8" width="122.80000000000001" height="122.20000000000005" fill="none" stroke="#777" stroke-width="1"/>
<polyline points="350.3,656.0 352.0,668.6 354.5,687.1 356.2,703.9 357.9,717.3 359.5,730.8 362.1,740.0 365.4,742.2 368.8,739.2 370.8,727.4 373.0,722.4 375.8,719.9 378.4,725.7 380.9,727.4 383.4,735.8 386.0,742.5 388.5,749.2 391.8,753.4 395.2,755.6" fill="none" stroke="#1e1e1e" stroke-width="1.6" stroke-dasharray="1.3 1.0"/>
<polyline points="313.7,738.1 315.3,755.2 317.0,755.4 322.7,753.8 327.3,753.3 331.3,750.8 334.2,746.2 337.7,739.8 340.6,730.5 342.9,714.0 345.3,693.8 347.3,675.3 349.0,660.2 350.0,655.2 351.3,668.6 353.3,685.4 355.0,702.2 356.7,719.0 358.7,734.1 361.2,744.2 364.6,747.6 367.9,746.7 370.5,741.7 372.5,740.6 374.2,742.2 376.4,741.2 378.4,744.2 381.8,749.2 386.0,754.0 389.3,755.4 436.0,755.6" fill="none" stroke="#050505" stroke-width="2.45" stroke-linejoin="round"/>
<text x="399.9" y="649.8" font-size="13.3">Ki-67</text>
<g stroke="#666" stroke-width="0.8">
<line x1="323" y1="756" x2="323" y2="759"/>
<line x1="330.6" y1="756" x2="330.6" y2="757.6"/>
<line x1="335.0" y1="756" x2="335.0" y2="757.6"/>
<line x1="338.2" y1="756" x2="338.2" y2="757.6"/>
<line x1="340.6" y1="756" x2="340.6" y2="757.6"/>
<line x1="342.6" y1="756" x2="342.6" y2="757.6"/>
<line x1="344.3" y1="756" x2="344.3" y2="757.6"/>
<line x1="345.8" y1="756" x2="345.8" y2="757.6"/>
<line x1="347.0" y1="756" x2="347.0" y2="757.6"/>
<line x1="348.2" y1="756" x2="348.2" y2="759"/>
<line x1="356.9" y1="756" x2="356.9" y2="757.6"/>
<line x1="362.0" y1="756" x2="362.0" y2="757.6"/>
<line x1="365.7" y1="756" x2="365.7" y2="757.6"/>
<line x1="368.5" y1="756" x2="368.5" y2="757.6"/>
<line x1="370.8" y1="756" x2="370.8" y2="757.6"/>
<line x1="372.7" y1="756" x2="372.7" y2="757.6"/>
<line x1="374.4" y1="756" x2="374.4" y2="757.6"/>
<line x1="375.9" y1="756" x2="375.9" y2="757.6"/>
<line x1="377.2" y1="756" x2="377.2" y2="759"/>
<line x1="385.8" y1="756" x2="385.8" y2="757.6"/>
<line x1="390.8" y1="756" x2="390.8" y2="757.6"/>
<line x1="394.4" y1="756" x2="394.4" y2="757.6"/>
<line x1="397.2" y1="756" x2="397.2" y2="757.6"/>
<line x1="399.5" y1="756" x2="399.5" y2="757.6"/>
<line x1="401.4" y1="756" x2="401.4" y2="757.6"/>
<line x1="403.0" y1="756" x2="403.0" y2="757.6"/>
<line x1="404.5" y1="756" x2="404.5" y2="757.6"/>
<line x1="405.8" y1="756" x2="405.8" y2="759"/>
<line x1="414.7" y1="756" x2="414.7" y2="757.6"/>
<line x1="420.0" y1="756" x2="420.0" y2="757.6"/>
<line x1="423.7" y1="756" x2="423.7" y2="757.6"/>
<line x1="426.6" y1="756" x2="426.6" y2="757.6"/>
<line x1="428.9" y1="756" x2="428.9" y2="757.6"/>
<line x1="430.9" y1="756" x2="430.9" y2="757.6"/>
<line x1="432.6" y1="756" x2="432.6" y2="757.6"/>
<line x1="434.1" y1="756" x2="434.1" y2="757.6"/>
<line x1="435.5" y1="756" x2="435.5" y2="759"/>
</g>
<text x="316.4" y="770.7" font-size="7.4" textLength="5.4" lengthAdjust="spacingAndGlyphs" fill="#111" style="stroke-width:.12px">10</text>
<text x="322.1" y="766.1" font-size="6.2" textLength="3.3" lengthAdjust="spacingAndGlyphs" fill="#111" style="stroke-width:.12px">0</text>
<text x="341.6" y="770.7" font-size="7.4" textLength="5.4" lengthAdjust="spacingAndGlyphs" fill="#111" style="stroke-width:.12px">10</text>
<text x="347.3" y="766.1" font-size="6.2" textLength="3.3" lengthAdjust="spacingAndGlyphs" fill="#111" style="stroke-width:.12px">1</text>
<text x="370.6" y="770.7" font-size="7.4" textLength="5.4" lengthAdjust="spacingAndGlyphs" fill="#111" style="stroke-width:.12px">10</text>
<text x="376.3" y="766.1" font-size="6.2" textLength="3.3" lengthAdjust="spacingAndGlyphs" fill="#111" style="stroke-width:.12px">2</text>
<text x="399.2" y="770.7" font-size="7.4" textLength="5.4" lengthAdjust="spacingAndGlyphs" fill="#111" style="stroke-width:.12px">10</text>
<text x="404.9" y="766.1" font-size="6.2" textLength="3.3" lengthAdjust="spacingAndGlyphs" fill="#111" style="stroke-width:.12px">3</text>
<text x="428.9" y="770.7" font-size="7.4" textLength="5.4" lengthAdjust="spacingAndGlyphs" fill="#111" style="stroke-width:.12px">10</text>
<text x="434.6" y="766.1" font-size="6.2" textLength="3.3" lengthAdjust="spacingAndGlyphs" fill="#111" style="stroke-width:.12px">4</text>
<line x1="313.5" y1="634" x2="313.5" y2="756" stroke="#444" stroke-width="1.6" stroke-dasharray="0.8 5.3"/>
</g></svg>
</body></html>
